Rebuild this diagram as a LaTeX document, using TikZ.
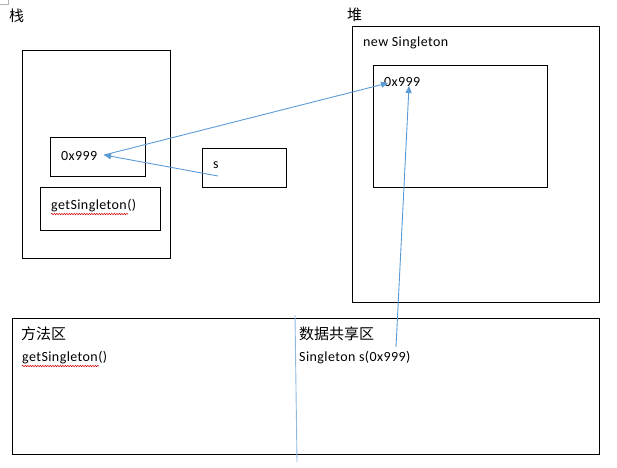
\documentclass[tikz,border=0pt]{standalone}
\usepackage{fontspec}
\setmainfont{Carlito}[LetterSpace=3]
\newfontfamily\cjk{Noto Sans CJK SC}
\usetikzlibrary{arrows.meta,decorations.pathmorphing}
\definecolor{arrowblue}{RGB}{91,155,213}
\tikzset{
  box/.style={draw=black, line width=1pt},
  lbl/.style={anchor=west, inner sep=0pt, font=\fontsize{14}{16}\selectfont},
  cjklbl/.style={anchor=west, inner sep=0pt, font=\cjk\fontsize{15}{17}\selectfont},
  conn/.style={draw=arrowblue, line width=0.9pt, -{Triangle[length=7pt,width=6pt]}},
  plainconn/.style={draw=arrowblue!70!white, line width=0.9pt},
  spell/.style={draw=red!80!black, line width=0.5pt, decorate, decoration={snake, amplitude=0.7pt, segment length=2.5pt}}
}
\begin{document}
\begin{tikzpicture}[x=1pt,y=-1pt]
\useasboundingbox (0,0) rectangle (617,467);
% corner mark
\draw[gray!60, line width=0.6pt] (0,4) -- (8,4) -- (8,0);
% titles
\node[cjklbl] (zhan) at (9,16) {栈};
\node[cjklbl] (dui) at (347,15) {堆};
% stack
\draw[box] (22,50) rectangle (170,258);
\draw[box] (50,137) rectangle (145,176);
\node[lbl] (addr1) at (61,156) {0x999};
\draw[box] (40,187) rectangle (160,230);
\node[lbl] (gs1) at (51,206) {getSingleton()};
\draw[spell] (51,214) -- (128,214);
% s
\draw[box] (202,148) rectangle (286,187);
\node[lbl] (svar) at (213,165) {s};
% heap
\draw[box] (352,26) rectangle (599,302);
\node[lbl] (newS) at (363,43) {new Singleton};
\draw[box] (373,65) rectangle (547,187);
\node[lbl] (addr2) at (384,82) {0x999};
% bottom area
\draw[box] (12,318) rectangle (599,454);
\node[cjklbl] (ff) at (21,334) {方法区};
\node[lbl] (gs2) at (22,358) {getSingleton()};
\draw[spell] (22,366) -- (99,366);
\node[cjklbl] (sj) at (299,334) {数据共享区};
\node[lbl] (sing) at (299,358) {Singleton s(0x999)};
% connector endpoints
\coordinate (sstart) at (218,176);
\coordinate (a1tip) at (104,155);
\coordinate (a2tip) at (388,83);
\coordinate (a3start) at (396,347);
\coordinate (a3tip) at (409,86);
\coordinate (vtop) at (295,315);
\coordinate (vbot) at (297,462);
\draw[conn] (sstart) -- (a1tip);
\draw[conn] (a1tip) -- (a2tip);
\draw[conn] (a3start) -- (a3tip);
\draw[plainconn] (vtop) -- (vbot);
\end{tikzpicture}
\end{document}
